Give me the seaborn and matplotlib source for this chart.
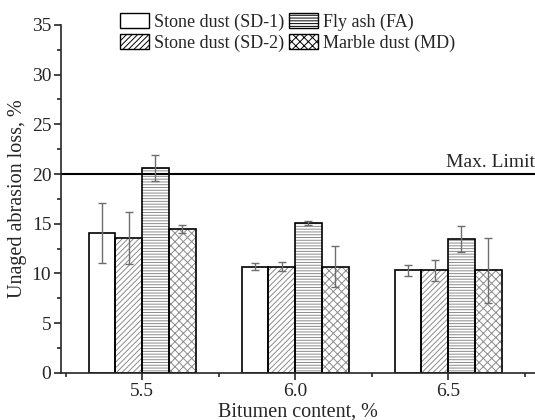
import numpy as np
import pandas as pd
import seaborn as sns
import matplotlib.pyplot as plt
from matplotlib.patches import Patch
from matplotlib.ticker import MultipleLocator

# bitumen content groups and fillers
bitumen = [5.5, 6.0, 6.5]
fillers = ["Stone dust (SD-1)", "Stone dust (SD-2)", "Fly ash (FA)", "Marble dust (MD)"]

# mean abrasion loss (%) per filler, one value per bitumen content
sd1 = [14.1, 10.7, 10.3]
sd2 = [13.6, 10.7, 10.3]
fa = [20.6, 15.1, 13.5]
md = [14.5, 10.7, 10.3]

# error bar half lengths
sd1_err = [3.0, 0.4, 0.55]
sd2_err = [2.6, 0.45, 1.05]
fa_err = [1.35, 0.2, 1.3]
md_err = [0.4, 2.05, 3.3]

max_limit = 20

hatches = ["", "//////", "------", "xxxx"]

sns.set_style("ticks")
plt.rcParams["font.family"] = ["Liberation Serif", "DejaVu Serif"]
plt.rcParams["hatch.linewidth"] = 0.7
plt.rcParams["hatch.color"] = "#8c8c8c"

values = [sd1, sd2, fa, md]
errors = [sd1_err, sd2_err, fa_err, md_err]
df = pd.DataFrame({
    "bitumen": bitumen * 4,
    "filler": [f for f in fillers for _ in bitumen],
    "loss": sum(values, []),
    "err": sum(errors, []),
})

fig = plt.figure(figsize=(5.35, 4.2), dpi=100)
ax = fig.add_axes([0.114, 0.112, 0.886, 0.829])

sns.barplot(data=df, x="bitumen", y="loss", hue="filler", hue_order=fillers,
            native_scale=True, width=0.7, errorbar=None, palette=["white"] * 4,
            edgecolor="#8c8c8c", linewidth=0, legend=False, ax=ax)

# hatch in grey, then a black outline on top, then error bars
n = len(bitumen)
bars = list(ax.patches)
for i, f in enumerate(fillers):
    for j in range(n):
        p = bars[i * n + j]
        p.set_hatch(hatches[i])
        p.set_edgecolor("#8c8c8c")
        x0, w, h = p.get_x(), p.get_width(), p.get_height()
        ax.bar(x0, h, width=w, align="edge", fill=False, edgecolor="black",
               linewidth=1.2, zorder=p.get_zorder() + 0.1)
        ax.errorbar(x0 + w / 2, h, yerr=errors[i][j], fmt="none",
                    ecolor="#6e6e6e", elinewidth=1.0, capsize=3, capthick=1.0, zorder=5)

ax.axhline(max_limit, color="black", lw=1.5)
ax.text(6.784, max_limit + 0.3, "Max. Limit", ha="right", va="bottom", fontsize=14)

ax.set_xlim(5.235, 6.784)
ax.set_ylim(0, 35)
ax.set_xticks(bitumen)
ax.set_xticklabels(["5.5", "6.0", "6.5"])
ax.xaxis.set_minor_locator(MultipleLocator(0.25))
ax.yaxis.set_major_locator(MultipleLocator(5))
ax.yaxis.set_minor_locator(MultipleLocator(2.5))
ax.tick_params(which="major", length=5, width=1.2, labelsize=14, direction="out", pad=2)
ax.tick_params(which="minor", length=3, width=1.2, direction="out")
ax.set_xlabel("Bitumen content, %", fontsize=14.5, labelpad=2)
ax.set_ylabel("Unaged abrasion loss, %", fontsize=14.5, labelpad=3)
for s in ["left", "bottom"]:
    ax.spines[s].set_linewidth(1.2)
sns.despine(ax=ax)

handles = []
for i, f in enumerate(fillers):
    h = Patch(facecolor="white", edgecolor="black", hatch=hatches[i], linewidth=1.0, label=f)
    handles.append(h)
ax.legend(handles=handles, ncol=2, loc="upper center", bbox_to_anchor=(0.478, 1.055),
          frameon=False, fontsize=13, handlelength=1.6, handleheight=0.9,
          handletextpad=0.25, columnspacing=0.3, labelspacing=0.2, borderaxespad=0)

fig.savefig("out.png", dpi=100)
